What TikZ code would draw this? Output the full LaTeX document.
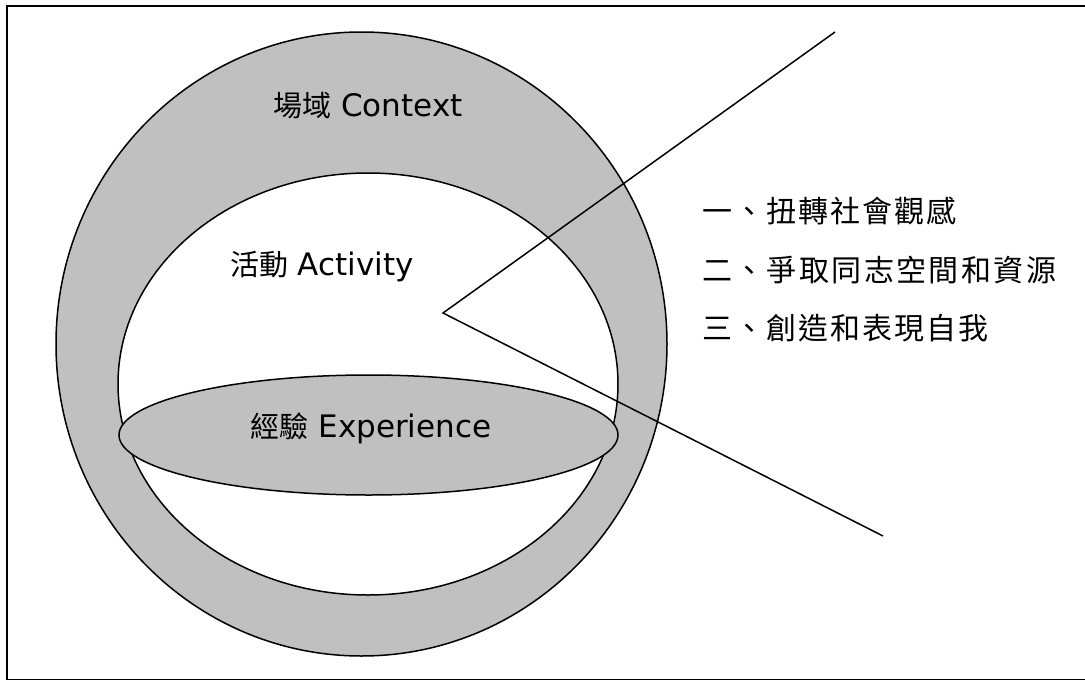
\documentclass[tikz,border=0pt]{standalone}
\usepackage{fontspec}
\setmainfont{DejaVu Sans}
\newfontfamily\cjk{Noto Sans CJK TC}
\newfontfamily\cjklist[LetterSpace=7]{Noto Sans CJK TC}
\newfontfamily\cjkwide[LetterSpace=8]{Noto Sans CJK TC}
\usepackage{tikz}
\usetikzlibrary{shapes.geometric}

\definecolor{ringgray}{RGB}{192,192,192}

\newcommand{\bilabel}[2]{{\cjk\fontsize{29}{34}\selectfont #1} #2}

\tikzset{
	zone/.style={ellipse, draw, line width=1.5pt, inner sep=0pt, outer sep=0pt},
	zonelabel/.style={font=\fontsize{31}{37}\selectfont, inner sep=0pt},
	aimlabel/.style={anchor=west, inner sep=0pt, font=\fontsize{30}{36}\selectfont}
}

\begin{document}
\begin{tikzpicture}[x=1pt, y=-1pt]
		\useasboundingbox (0, 0) rectangle (1085, 680);
		\draw[line width=1.4pt] (7, 6) rectangle (1095, 679.5);

		\draw (361.5, 344) node[zone, fill=ringgray, minimum width=611pt, minimum height=624pt] (context) {};
		\draw (368, 384) node[zone, fill=white, minimum width=500pt, minimum height=422pt] (activity) {};
		\draw (368.5, 435) node[zone, fill=ringgray, minimum width=499pt, minimum height=120pt] (experience) {};

		\draw (368, 106) node[zonelabel] (ctxtext) {\bilabel{場域}{Context}};
		\draw (322, 267) node[zonelabel] (acttext) {\bilabel{活動}{Activity}};
		\draw (371, 428) node[zonelabel] (exptext) {\bilabel{經驗}{Experience}};

		\coordinate (tip) at (443, 313);
		\coordinate (upper) at (835, 32);
		\coordinate (lower) at (883, 536);
		\draw[line width=1.5pt] (upper) -- (tip) -- (lower);

		\draw (702, 211) node[aimlabel] (aim1) {\cjklist 一、扭轉社會觀感};
		\draw (702, 270) node[aimlabel] (aim2) {\cjkwide 二、爭取同志空間和資源};
		\draw (702, 328) node[aimlabel] (aim3) {\cjklist 三、創造和表現自我};
	\end{tikzpicture}
\end{document}
